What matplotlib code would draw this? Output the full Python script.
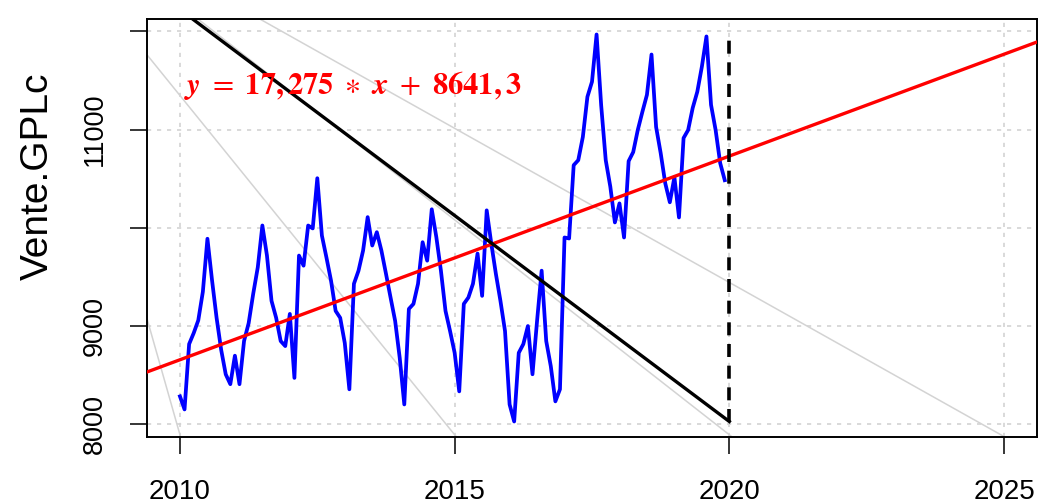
import numpy as np
import matplotlib
matplotlib.use("Agg")
import matplotlib.pyplot as plt

plt.rcParams["font.family"] = ["Liberation Sans", "DejaVu Sans"]
plt.rcParams["mathtext.fontset"] = "stix"

# ventes mensuelles de GPLc, janvier 2010 -> décembre 2019
annee_debut = 2010
vente_gplc = [
    8286, 8153, 8818, 8930, 9060, 9350, 9890, 9470, 9085, 8760, 8510, 8410,
    8700, 8410, 8850, 9030, 9330, 9600, 10025, 9720, 9258, 9087, 8849, 8798,
    9125, 8474, 9719, 9616, 10025, 9995, 10506, 9923, 9698, 9463, 9156, 9085,
    8829, 8358, 9432, 9565, 9770, 10110, 9821, 9957, 9770, 9534, 9292, 9054,
    8678, 8204, 9176, 9227, 9432, 9855, 9667, 10190, 9906, 9565, 9156, 8950,
    8729, 8337, 9227, 9292, 9432, 9739, 9309, 10179, 9842, 9534, 9258, 8951,
    8204, 8030, 8729, 8818, 9002, 8511, 9054, 9565, 8849, 8593, 8235, 8358,
    9903, 9893, 10639, 10690, 10926, 11335, 11488, 11969, 11250, 10690, 10420, 10056,
    10250, 9903, 10680, 10772, 10997, 11181, 11355, 11765, 11028, 10762, 10455, 10261,
    10516, 10107, 10915, 10997, 11222, 11386, 11642, 11949, 11253, 10997, 10660, 10486,
]

# tendance linéaire y = a * x + b (x = numéro du mois, 1 = janvier 2010)
pente = 17.275
ordonnee = 8641.3

# droite descendante jusqu'au minimum, en fin de série
chute_x = [2010.0, 2020.0]
chute_debut = 12223

# droites grises (deux points chacune)
gris_p1 = [(2009.395, 9087), (2011.545, 10281), (2015.636, 9804), (2011.455, 12126)]
gris_p2 = [(2010.0, 7895), (2015.0, 7895), (2020.0, 7895), (2025.0, 7877)]

x_ticks = [2010, 2015, 2020, 2025]
y_ticks = [8000, 9000, 10000, 11000, 12000]
y_labels = ["8000", "9000", "", "11000", ""]

vente = np.array(vente_gplc, dtype=float)
t = annee_debut + np.arange(len(vente)) / 12
ymin, ymax = vente.min(), vente.max()

fig = plt.figure(figsize=(10.4, 5.03), dpi=100)
ax = fig.add_axes([147 / 1040, 1 - 437 / 503, 890 / 1040, 418 / 503])

# limites façon R (étendues de 4 %)
ax.set_xlim(2010 - 0.04 * 15, 2025 + 0.04 * 15)
ax.set_ylim(ymin - 0.04 * (ymax - ymin), ymax + 0.04 * (ymax - ymin))

grid_kw = dict(color="#d3d3d3", lw=1.2, ls=(0, (2.5, 3.5)), zorder=0)
for gx in x_ticks:
    ax.axvline(gx, **grid_kw)
for gy in y_ticks:
    ax.axhline(gy, **grid_kw)

for p1, p2 in zip(gris_p1, gris_p2):
    ax.axline(p1, p2, color="#d3d3d3", lw=1.1, zorder=1)

ax.plot(t, vente, color="blue", lw=2.7, zorder=3, solid_joinstyle="round")

# tendance en années : x = (t - 2010) * 12 + 1
ax.axline((2010, pente * 1 + ordonnee), slope=pente * 12, color="red", lw=2.4, zorder=4)

ax.plot(chute_x, [chute_debut, ymin], color="black", lw=2.4, zorder=4)
ax.plot([2020, 2020], [ymin, ymax], color="black", lw=2.6,
        ls=(0, (3.6, 2.4)), zorder=4)

ax.text(2010.08, 11450,
        r"$\mathbfit{y}\ =\ \mathbf{17,275}\ \ast\ \mathbfit{x}\ +\ \mathbf{8641,3}$",
        color="red", fontsize=22, ha="left", va="center", zorder=5)

ax.set_xticks(x_ticks)
ax.set_yticks(y_ticks)
ax.set_yticklabels(y_labels, rotation=90, va="center")
ax.tick_params(axis="x", length=12, width=1.1, pad=18, labelsize=20)
ax.tick_params(axis="y", length=12, width=1.1, pad=16, labelsize=19.5)
for s in ax.spines.values():
    s.set_linewidth(1.4)
ax.set_ylabel("Vente.GPLc", fontsize=28)
ax.yaxis.set_label_coords((56 - 147) / 890, (437 - 176) / 418)

fig.savefig("out.png", dpi=100)
